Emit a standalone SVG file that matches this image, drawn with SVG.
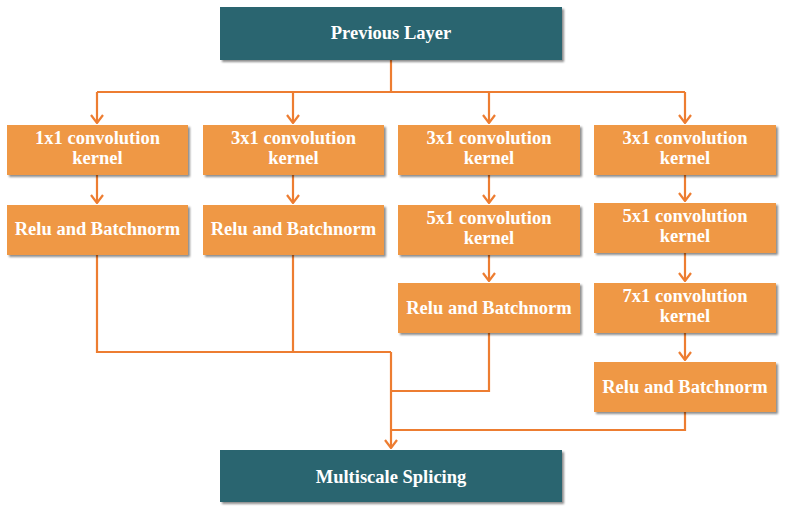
<svg xmlns="http://www.w3.org/2000/svg" width="789" height="512" viewBox="0 0 789 512">
<defs>
<filter id="sh" x="-5%" y="-10%" width="115%" height="130%">
<feGaussianBlur in="SourceAlpha" stdDeviation="1.2"/>
<feOffset dx="2" dy="2" result="b"/>
<feComponentTransfer><feFuncA type="linear" slope="0.45"/></feComponentTransfer>
<feMerge><feMergeNode/><feMergeNode in="SourceGraphic"/></feMerge>
</filter>
<marker id="ah" viewBox="0 0 10 14" refX="9" refY="7" markerWidth="10" markerHeight="14" markerUnits="userSpaceOnUse" orient="auto">
<path d="M1,1 L9,7 L1,13" fill="none" stroke="#ED7D31" stroke-width="2.2"/>
</marker>
</defs>
<style>
.o{fill:#EF9845;filter:url(#sh)}
.t{fill:#2A6570;filter:url(#sh)}
text{font-family:"Liberation Serif","Times New Roman",serif;font-weight:bold;font-size:18.5px;fill:#fff;text-anchor:middle}
.c{fill:none;stroke:#ED7D31;stroke-width:2.2}
</style>
<rect width="789" height="512" fill="#fff"/>
<g id="connectors">
<path class="c" d="M391,60 V92"/>
<path class="c" d="M97,92 H685"/>
<path class="c" d="M97,92 V123" marker-end="url(#ah)"/>
<path class="c" d="M293,92 V123" marker-end="url(#ah)"/>
<path class="c" d="M489,92 V123" marker-end="url(#ah)"/>
<path class="c" d="M685,92 V123" marker-end="url(#ah)"/>
<path class="c" d="M97,175 V203" marker-end="url(#ah)"/>
<path class="c" d="M293,175 V203" marker-end="url(#ah)"/>
<path class="c" d="M489,175 V203" marker-end="url(#ah)"/>
<path class="c" d="M685,175 V201" marker-end="url(#ah)"/>
<path class="c" d="M489,255 V281" marker-end="url(#ah)"/>
<path class="c" d="M685,253 V281" marker-end="url(#ah)"/>
<path class="c" d="M685,333 V360" marker-end="url(#ah)"/>
<path class="c" d="M97,255 V352 H391"/>
<path class="c" d="M293,255 V352"/>
<path class="c" d="M489,333 V391 H391"/>
<path class="c" d="M685,412 V430 H391"/>
<path class="c" d="M391,352 V448" marker-end="url(#ah)"/>
</g>
<g id="prev"><rect class="t" x="220" y="7" width="342" height="53"/><text x="391" y="39">Previous Layer</text></g>
<g id="c1k"><rect class="o" x="7" y="125" width="181" height="50"/><text x="97.5" y="144">1x1 convolution</text><text x="97.5" y="164">kernel</text></g>
<g id="c2k"><rect class="o" x="203" y="125" width="181" height="50"/><text x="293.5" y="144">3x1 convolution</text><text x="293.5" y="164">kernel</text></g>
<g id="c3k"><rect class="o" x="398" y="125" width="182" height="50"/><text x="489" y="144">3x1 convolution</text><text x="489" y="164">kernel</text></g>
<g id="c4k"><rect class="o" x="594" y="125" width="182" height="50"/><text x="685" y="144">3x1 convolution</text><text x="685" y="164">kernel</text></g>
<g id="c1r"><rect class="o" x="7" y="205" width="181" height="50"/><text x="97.5" y="235">Relu and Batchnorm</text></g>
<g id="c2r"><rect class="o" x="203" y="205" width="181" height="50"/><text x="293.5" y="235">Relu and Batchnorm</text></g>
<g id="c3k5"><rect class="o" x="398" y="205" width="182" height="50"/><text x="489" y="224">5x1 convolution</text><text x="489" y="244">kernel</text></g>
<g id="c4k5"><rect class="o" x="594" y="203" width="182" height="50"/><text x="685" y="222">5x1 convolution</text><text x="685" y="242">kernel</text></g>
<g id="c3r"><rect class="o" x="398" y="283" width="182" height="50"/><text x="489" y="314">Relu and Batchnorm</text></g>
<g id="c4k7"><rect class="o" x="594" y="283" width="182" height="50"/><text x="685" y="302">7x1 convolution</text><text x="685" y="322">kernel</text></g>
<g id="c4r"><rect class="o" x="594" y="362" width="182" height="50"/><text x="685" y="393">Relu and Batchnorm</text></g>
<g id="splice"><rect class="t" x="220" y="450" width="342" height="52"/><text x="391" y="483">Multiscale Splicing</text></g>
</svg>
